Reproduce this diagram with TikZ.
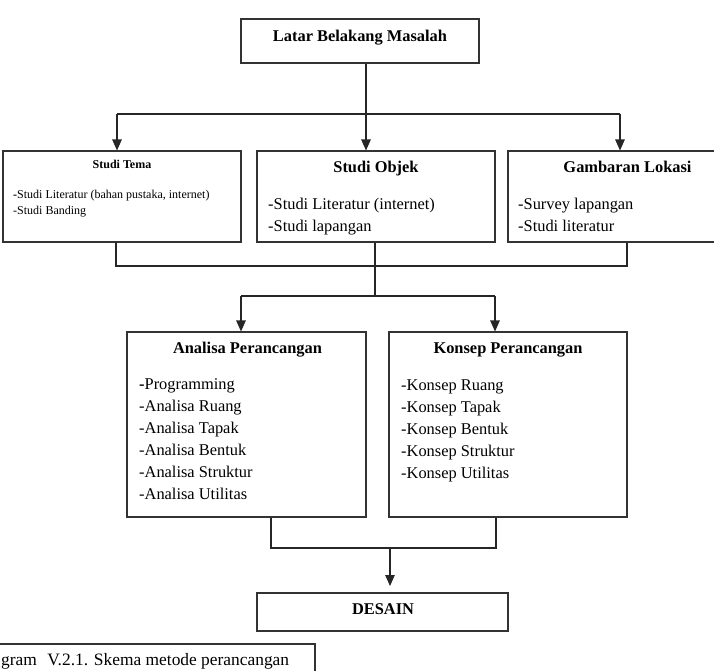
\documentclass[tikz,border=0pt]{standalone}
\usepackage{fontspec}
\setmainfont{Liberation Serif}
\usetikzlibrary{arrows.meta,calc}
\tikzset{
 box/.style={draw=black!80, line width=1.1pt, inner sep=0pt, rectangle},
 conn/.style={draw=black!85, line width=1.1pt},
 arr/.style={conn, -{Triangle[length=11pt,width=9.5pt]}},
 ttl/.style={font=\fontsize{16.4}{20}\selectfont\bfseries, anchor=base, inner sep=0pt},
 itm/.style={font=\fontsize{16.4}{20}\selectfont, anchor=base west, inner sep=0pt},
 sttl/.style={font=\fontsize{12}{14}\selectfont\bfseries, anchor=base, inner sep=0pt},
 sitm/.style={font=\fontsize{12}{14}\selectfont, anchor=base west, inner sep=0pt},
 captxt/.style={font=\fontsize{17.4}{20}\selectfont, anchor=base west, inner sep=0pt},
}
\begin{document}
\begin{tikzpicture}[x=1pt,y=-1pt]
\useasboundingbox (0,0) rectangle (714,670);
\clip (0,0) rectangle (714,670);
\fill[white] (0,0) rectangle (714,670);

% boxes
\node[box, minimum width=238, minimum height=44] (latar) at (360,41) {};
\node[box, minimum width=238, minimum height=91] (tema) at (122,196.5) {};
\node[box, minimum width=238, minimum height=91] (objek) at (376,196.5) {};
\node[box, minimum width=210, minimum height=91] (lokasi) at (613,196.5) {};
\node[box, minimum width=239, minimum height=185] (analisa) at (246.5,424.5) {};
\node[box, minimum width=238, minimum height=185] (konsep) at (508,424.5) {};
\node[box, minimum width=251, minimum height=38] (desain) at (382.5,612) {};
\node[box, minimum width=320, minimum height=46] (capbox) at (155,667) {};

% texts
\node[ttl] (latarT) at (360,41) {Latar Belakang Masalah};

\node[sttl] (temaT) at (122,168) {Studi Tema};
\node[sitm] (tema1) at (13,198) {\textbf{-}Studi Literatur (bahan pustaka, internet)};
\node[sitm] (tema2) at (13,214) {-Studi Banding};

\node[ttl] (objekT) at (376,172) {Studi Objek};
\node[itm] (objek1) at (268,209) {-Studi Literatur (internet)};
\node[itm] (objek2) at (268,231) {-Studi lapangan};

\node[ttl] (lokasiT) at (627.5,172) {Gambaran Lokasi};
\node[itm] (lokasi1) at (518,209) {-Survey lapangan};
\node[itm] (lokasi2) at (518,231) {-Studi literatur};

\node[ttl] (analisaT) at (247.5,353) {Analisa Perancangan};
\node[itm] (an1) at (139,389) {\textbf{-}Programming};
\node[itm] (an2) at (139,411) {-Analisa Ruang};
\node[itm] (an3) at (139,433) {-Analisa Tapak};
\node[itm] (an4) at (139,455) {-Analisa Bentuk};
\node[itm] (an5) at (139,477) {-Analisa Struktur};
\node[itm] (an6) at (139,499) {-Analisa Utilitas};

\node[ttl] (konsepT) at (508,353) {Konsep Perancangan};
\node[itm] (ko1) at (401,390) {-Konsep Ruang};
\node[itm] (ko2) at (401,412) {-Konsep Tapak};
\node[itm] (ko3) at (401,434) {-Konsep Bentuk};
\node[itm] (ko4) at (401,456) {-Konsep Struktur};
\node[itm] (ko5) at (401,478) {-Konsep Utilitas};

\node[ttl] (desainT) at (383,614) {DESAIN};

\node[captxt] (capT) at (1,665) {gram\hspace{0.6em}V.2.1. Skema metode perancangan};

% connectors: top
\coordinate (j1) at (366,114);
\coordinate (hl) at (117,114);
\coordinate (hr) at (620,114);
\draw[conn] (latar.south -| j1) -- (j1);
\draw[conn] (hl) -- (hr);
\draw[arr] (hl) -- (hl |- tema.north);
\draw[arr] (j1) -- (j1 |- objek.north);
\draw[arr] (hr) -- (hr |- lokasi.north);

% connectors: middle
\coordinate (b1) at (116,266);
\coordinate (b2) at (627,266);
\coordinate (b3) at (375,266);
\coordinate (b4) at (375,296);
\coordinate (al) at (241,296);
\coordinate (ar) at (495,296);
\draw[conn] (b1 |- tema.south) -- (b1) -- (b2) -- (b2 |- lokasi.south);
\draw[conn] (b3 |- objek.south) -- (b4);
\draw[conn] (al) -- (ar);
\draw[arr] (al) -- (al |- analisa.north);
\draw[arr] (ar) -- (ar |- konsep.north);

% connectors: bottom
\coordinate (c1) at (271,548);
\coordinate (c2) at (496,548);
\coordinate (c3) at (390,548);
\coordinate (c4) at (390,586);
\draw[conn] (c1 |- analisa.south) -- (c1) -- (c2) -- (c2 |- konsep.south);
\draw[arr] (c3) -- (c4);
\end{tikzpicture}
\end{document}
